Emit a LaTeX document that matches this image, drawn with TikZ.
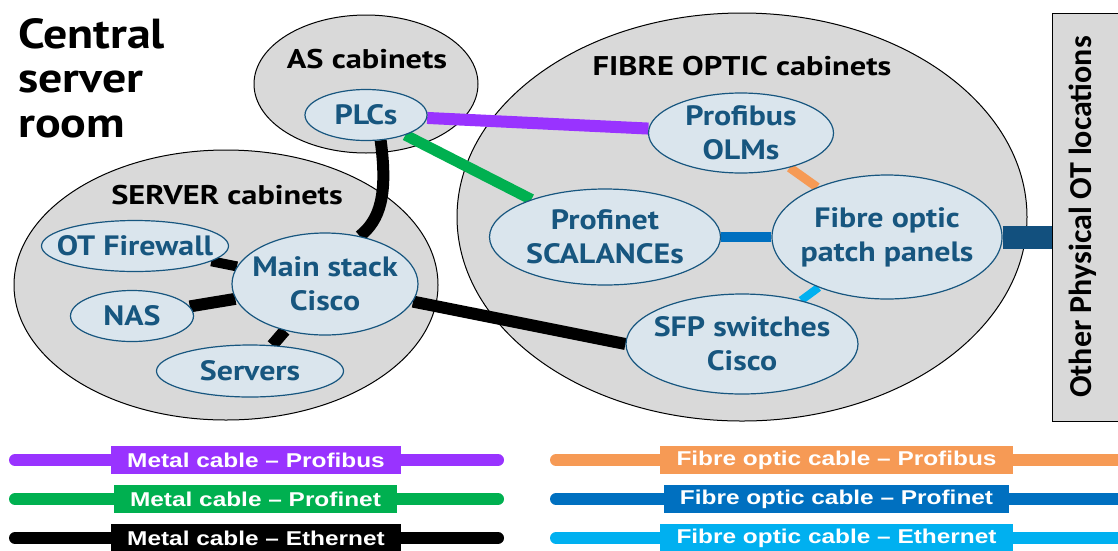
\documentclass[tikz,border=0pt]{standalone}
\usepackage{fontspec}
\usetikzlibrary{shapes.geometric}
\newfontfamily\dinfont{PT Sans}[FakeStretch=1.14]
\newfontfamily\dinwide{PT Sans}[FakeStretch=1.2]
\newfontfamily\legfont{Liberation Sans}[FakeStretch=1.22]
\newfontfamily\calfont{Carlito}
\definecolor{outerfill}{HTML}{D9D9D9}
\definecolor{innerfill}{HTML}{DAE5ED}
\definecolor{innerblue}{HTML}{17567F}
\definecolor{purplec}{HTML}{9933FF}
\definecolor{greenc}{HTML}{00B050}
\definecolor{orangec}{HTML}{F69A55}
\definecolor{bluec}{HTML}{0070C0}
\definecolor{lbluec}{HTML}{00B0F0}
\definecolor{dbluec}{HTML}{12507E}
\pgfdeclarelayer{back}
\pgfdeclarelayer{mid}
\pgfsetlayers{back,mid,main}
\tikzset{
  outer/.style={ellipse, draw=black, line width=1pt, fill=outerfill, inner sep=0pt},
  inner/.style={ellipse, draw=innerblue, line width=1.2pt, fill=innerfill, inner sep=0pt},
  intext/.style={text=innerblue, font=\dinfont\bfseries\fontsize{28}{34}\selectfont, align=center, inner sep=0pt},
  cablbl/.style={text=black, font=\dinwide\bfseries\fontsize{27}{30}\selectfont, inner sep=0pt},
  cab/.style={line width=12pt},
  leg/.style={line width=12pt, line cap=round},
  legbox/.style={text=white, font=\legfont\bfseries\fontsize{20}{20}\selectfont, minimum height=28pt, inner sep=0pt}
}
\begin{document}
\begin{tikzpicture}[x=1pt,y=1pt]
\useasboundingbox (0,0) rectangle (1118,-550);
\clip (0,0) rectangle (1118,-550);
% title
\node[anchor=north west, align=left, inner sep=0pt, font=\dinfont\bfseries\fontsize{42}{44.5}\selectfont] (title) at (18,-18) {Central\\server\\room};
% outer cabinets
\begin{pgfonlayer}{back}
\node[outer, minimum width=224pt, minimum height=138pt] (ascab) at (366,-84) {};
\node[outer, minimum width=424pt, minimum height=270pt] (srvcab) at (226,-285) {};
\node[outer, minimum width=570pt, minimum height=408pt] (focab) at (742,-217) {};
\end{pgfonlayer}
\node[cablbl, anchor=base] (aslbl) at (367,-68) {AS cabinets};
\node[cablbl, anchor=base] (srvlbl) at (227,-204) {SERVER cabinets};
\node[cablbl, anchor=base] (folbl) at (742,-75) {FIBRE OPTIC cabinets};
% inner devices
\node[inner, minimum width=122pt, minimum height=51pt, label={[intext]center:PLCs}] (plc) at (366,-115) {};
\node[inner, minimum width=187pt, minimum height=51pt, label={[intext]center:OT Firewall}] (fw) at (135,-246) {};
\node[inner, minimum width=123pt, minimum height=51pt, label={[intext]center:NAS}] (nas) at (132,-316) {};
\node[inner, minimum width=186pt, minimum height=102pt, label={[intext]center:{Main stack\\Cisco}}] (main) at (325,-284) {};
\node[inner, minimum width=187pt, minimum height=52pt, label={[intext]center:Servers}] (srv) at (250,-371) {};
\node[inner, minimum width=185pt, minimum height=80pt, label={[intext]center:{Profibus\\OLMs}}] (olm) at (741,-133) {};
\node[inner, minimum width=231pt, minimum height=96pt, label={[intext]center:{Profinet\\SCALANCEs}}] (pn) at (605,-237) {};
\node[inner, minimum width=230pt, minimum height=124pt, label={[intext]center:{Fibre optic\\patch panels}}] (pp) at (887,-237) {};
\node[inner, minimum width=232pt, minimum height=100pt, label={[intext]center:{SFP switches\\Cisco}}] (sfp) at (742,-344) {};
% other locations box
\node[draw=black, line width=1pt, fill=outerfill, minimum width=66pt, minimum height=408pt, inner sep=0pt] (box) at (1085,-217) {};
\node[rotate=90, inner sep=0pt, font=\calfont\bfseries\fontsize{32}{34}\selectfont] (boxlbl) at (1083,-217) {Other Physical OT locations};
% connectors
\begin{pgfonlayer}{mid}
\draw[cab, purplec] (plc) -- (olm);
\draw[cab, greenc, line width=11pt] (plc) -- (pn);
\draw[cab, black] (plc.300) .. controls (388,-195) and (380,-220) .. (main.54);
\draw[cab, black, line width=10pt] (fw) -- (main);
\draw[cab, black] (nas) -- (main);
\draw[cab, black] (srv) -- (main);
\draw[cab, black] (main) -- (sfp.west);
\draw[orangec, line width=9pt] (olm) -- (pp);
\draw[bluec, line width=10pt] (pn) -- (pp);
\draw[lbluec, line width=8pt] (sfp) -- (pp);
\draw[dbluec, line width=23pt] (pp.east) -- (pp.east -| box.west);
\end{pgfonlayer}
% legend
\coordinate (la1) at (15,-460); \coordinate (lb1) at (498,-460);
\coordinate (la2) at (15,-499); \coordinate (lb2) at (498,-499);
\coordinate (la3) at (15,-538); \coordinate (lb3) at (498,-538);
\coordinate (ra1) at (556,-460); \coordinate (rb1) at (1140,-460);
\coordinate (ra2) at (556,-499); \coordinate (rb2) at (1140,-499);
\coordinate (ra3) at (556,-538); \coordinate (rb3) at (1140,-538);
\draw[leg, purplec] (la1) -- (lb1);
\draw[leg, greenc] (la2) -- (lb2);
\draw[leg, black] (la3) -- (lb3);
\draw[leg, orangec] (ra1) -- (rb1);
\draw[leg, bluec] (ra2) -- (rb2);
\draw[leg, lbluec] (ra3) -- (rb3);
\node[legbox, fill=purplec, minimum width=290pt] (t1) at (256,-460) {Metal cable – Profibus};
\node[legbox, fill=greenc, minimum width=283pt] (t2) at (255.5,-499) {Metal cable – Profinet};
\node[legbox, fill=black, minimum width=290pt] (t3) at (256,-538) {Metal cable – Ethernet};
\node[legbox, fill=orangec, minimum width=353pt] (t4) at (836.5,-460) {Fibre optic cable – Profibus};
\node[legbox, fill=bluec, minimum width=345pt] (t5) at (836.5,-499) {Fibre optic cable – Profinet};
\node[legbox, fill=lbluec, minimum width=353pt] (t6) at (836.5,-538) {Fibre optic cable – Ethernet};
\end{tikzpicture}
\end{document}
